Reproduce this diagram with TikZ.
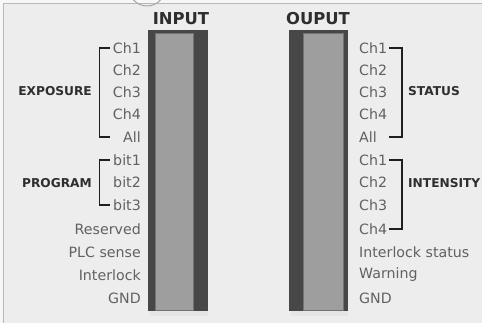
\documentclass[tikz,border=0pt]{standalone}
\usepackage{fontspec}
\setmainfont{DejaVu Sans}
\begin{document}
\begin{tikzpicture}[x=1pt,y=-1pt,
  lbl/.style={inner sep=1pt,text=black!62,font=\fontsize{14.2}{15}\selectfont},
  llbl/.style={lbl,anchor=east},
  rlbl/.style={lbl,anchor=west},
  grp/.style={inner sep=1pt,text=black!82,font=\fontsize{12.2}{13}\selectfont\bfseries},
  head/.style={inner sep=0pt,text=black!82,font=\fontsize{16.4}{17}\selectfont\bfseries},
  brk/.style={draw=black!88,line width=1.8pt},
  colout/.style={fill=black!72,draw=none},
  colin/.style={fill=black!38,draw=black!55,line width=0.4pt}]
\useasboundingbox (0,0) rectangle (482,323);
\fill[black!3] (0,0) rectangle (482,323);
\fill[black!7] (3.5,3.5) rectangle (490,330);
\draw[black!28,line width=1pt] (3.5,330) -- (3.5,3.5) -- (490,3.5);
\begin{scope}
\clip (0,0) rectangle (482,323);
\draw[black!35,line width=1pt] (147,-12) circle (18);
\end{scope}
% columns
\fill[black!10] (150,308) rectangle (208,316);
\fill[colout] (148,30) rectangle (208,311);
\fill[colin] (155,33) rectangle (193,310);
\fill[black!10] (291,308) rectangle (348,316);
\fill[colout] (289,30) rectangle (348,311);
\fill[colin] (303,33) rectangle (343,310);
\node[head] (hin) at (181,19) {INPUT};
\node[head] (hout) at (318,19) {OUPUT};
% left labels
\node[llbl] (l1) at (142,48) {Ch1};
\node[llbl] (l2) at (142,70) {Ch2};
\node[llbl] (l3) at (142,92) {Ch3};
\node[llbl] (l4) at (142,114) {Ch4};
\node[llbl] (l5) at (142,137) {All};
\node[llbl] (l6) at (142,160) {bit1};
\node[llbl] (l7) at (142,182) {bit2};
\node[llbl] (l8) at (142,205) {bit3};
\node[llbl] (l9) at (142,229) {Reserved};
\node[llbl] (l10) at (142,252) {PLC sense};
\node[llbl] (l11) at (142,275) {Interlock};
\node[llbl] (l12) at (142,298) {GND};
% right labels
\node[rlbl] (r1) at (358,48) {Ch1};
\node[rlbl] (r2) at (358,70) {Ch2};
\node[rlbl] (r3) at (358,92) {Ch3};
\node[rlbl] (r4) at (358,114) {Ch4};
\node[rlbl] (r5) at (358,137) {All};
\node[rlbl] (r6) at (358,160) {Ch1};
\node[rlbl] (r7) at (358,182) {Ch2};
\node[rlbl] (r8) at (358,205) {Ch3};
\node[rlbl] (r9) at (358,229) {Ch4};
\node[rlbl] (r10) at (358,252) {Interlock status};
\node[rlbl] (r11) at (358,275) {Warning};
\node[rlbl] (r12) at (358,298) {GND};
% group labels
\node[grp,anchor=east] (gexp) at (93,91) {EXPOSURE};
\node[grp,anchor=east] (gprog) at (93,183) {PROGRAM};
\node[grp,anchor=west] (gstat) at (407,91) {STATUS};
\node[grp,anchor=west] (gint) at (407,183) {INTENSITY};
\coordinate (lbx) at (99.5,0);
\coordinate (ltx) at (110,0);
\coordinate (rbx) at (402,0);
\coordinate (rtx) at (389,0);
% brackets
\draw[brk] (l1.west -| ltx) -- (l1.west -| lbx) |- (l5.west -| ltx);
\draw[brk] (l6.west -| ltx) -- (l6.west -| lbx) |- (l8.west -| ltx);
\draw[brk] (r1.east -| rtx) -- (r1.east -| rbx) |- (r5.east -| rtx);
\draw[brk] (r6.east -| rtx) -- (r6.east -| rbx) |- (r9.east -| rtx);
\end{tikzpicture}
\end{document}
